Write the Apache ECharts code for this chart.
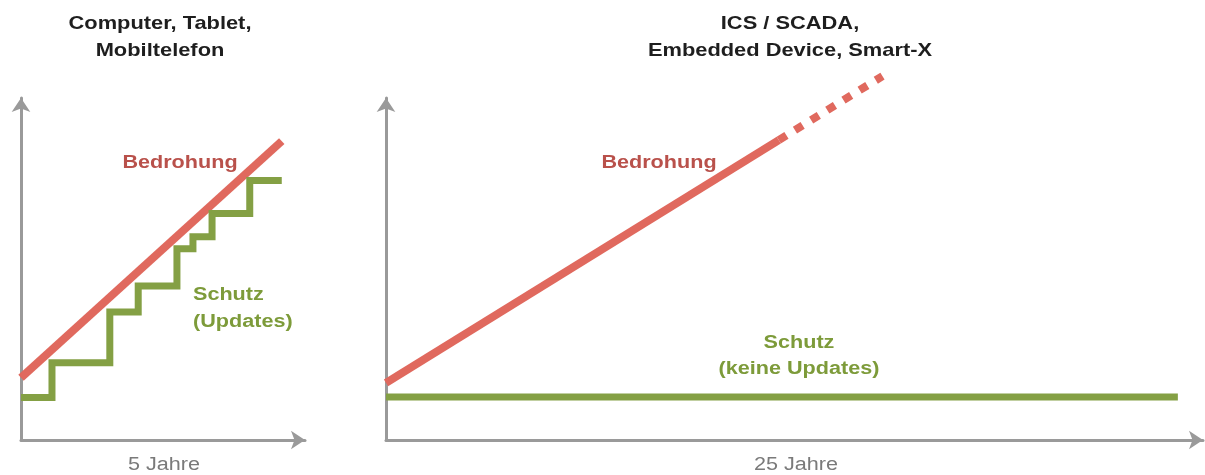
<!DOCTYPE html>
<html>
<head>
<meta charset="utf-8">
<script src="https://cdn.jsdelivr.net/npm/echarts@6/dist/echarts.min.js"></script>
<style>
  html, body { margin: 0; padding: 0; background: #fff; }
  #chart { width: 1205px; height: 475px; }
</style>
</head>
<body>
<div id="chart"></div>
<script>
// linkes Diagramm: Jahre (x) / Niveau 0..100 (y)
var leftThreat = [[0, 18.2], [5.05, 87.4]];
var leftProtect = [[0, 12.4], [0.6, 22.6], [1.72, 37.4], [2.27, 45], [3.02, 55.9],
                   [3.33, 59.4], [3.7, 66.2], [4.43, 75.9], [5.05, 75.9]];
// rechtes Diagramm
var rightThreat = [[0, 16.7], [12.5, 87.7]];
var rightThreatFuture = [[12.5, 87.7], [15.8, 106.4]];
var rightProtect = [[0, 12.6], [25.2, 12.6]];

var leftAxisMax = 5.5;
var rightAxisMax = 26;
var titles = ['Computer, Tablet,\nMobiltelefon', 'ICS / SCADA,\nEmbedded Device, Smart-X'];
var axisNames = ['5 Jahre', '25 Jahre'];

var RED = '#e0695e';
var GREEN = '#84a044';
var GRAY = '#9a9a9a';

var chart = echarts.init(document.getElementById('chart'));

function xAx(idx, max) {
    return {
        type: 'value', gridIndex: idx, min: 0, max: max,
        axisLine: { show: true, symbol: ['none', 'arrow'], symbolSize: [14, 14],
            lineStyle: { color: GRAY, width: 3 } },
        axisTick: { show: false }, axisLabel: { show: false }, splitLine: { show: false }
    };
}
function yAx(idx) {
    return {
        type: 'value', gridIndex: idx, min: 0, max: 100,
        axisLine: { show: true, symbol: ['none', 'arrow'], symbolSize: [14, 14],
            lineStyle: { color: GRAY, width: 3 } },
        axisTick: { show: false }, axisLabel: { show: false }, splitLine: { show: false }
    };
}
function line(idx, data, color, extra) {
    var s = {
        type: 'line', xAxisIndex: idx, yAxisIndex: idx, data: data,
        symbol: 'none', silent: true, animation: false,
        lineStyle: { color: color, width: 8, cap: 'butt', join: 'miter' }
    };
    return Object.assign(s, extra || {});
}
function txt(x, y, text, color, bold, align, size, sx) {
    return {
        type: 'text', x: x, y: y, scaleX: sx || 1.2,
        style: {
            text: text, fill: color, align: align || 'center', verticalAlign: 'middle',
            font: (bold ? 'bold ' : '') + (size || 18) + 'px "Liberation Sans", Arial, sans-serif'
        }
    };
}

var option = {
    backgroundColor: '#fff',
    grid: [
        { left: 21, top: 98, width: 284, height: 342 },
        { left: 386, top: 98, width: 817, height: 342 }
    ],
    xAxis: [xAx(0, leftAxisMax), xAx(1, rightAxisMax)],
    yAxis: [yAx(0), yAx(1)],
    series: [
        line(0, leftThreat, RED),
        line(0, leftProtect, GREEN, { step: 'end', lineStyle: { color: GREEN, width: 7, cap: 'butt', join: 'miter' } }),
        line(1, rightThreat, RED),
        line(1, rightThreatFuture, RED, { clip: false, lineStyle: { color: RED, width: 8, type: [9, 10], cap: 'butt' } }),
        line(1, rightProtect, GREEN, { lineStyle: { color: GREEN, width: 7, cap: 'butt' } })
    ],
    graphic: [
        txt(160, 24, titles[0].split('\n')[0], '#1e1e1e', true, 'center', 19, 1.15),
        txt(160, 51, titles[0].split('\n')[1], '#1e1e1e', true, 'center', 19, 1.15),
        txt(790, 24, titles[1].split('\n')[0], '#1e1e1e', true, 'center', 19, 1.15),
        txt(790, 51, titles[1].split('\n')[1], '#1e1e1e', true, 'center', 19, 1.15),
        txt(180, 163, 'Bedrohung', '#b9514b', true),
        txt(659, 163, 'Bedrohung', '#b9514b', true),
        txt(193, 295, 'Schutz', '#7d9b3a', true, 'left'),
        txt(193, 322, '(Updates)', '#7d9b3a', true, 'left'),
        txt(799, 343, 'Schutz', '#7d9b3a', true),
        txt(799, 369, '(keine Updates)', '#7d9b3a', true),
        txt(164, 465, axisNames[0], '#7a7a7a', false),
        txt(796, 465, axisNames[1], '#7a7a7a', false)
    ]
};
chart.setOption(option);
</script>
</body>
</html>
